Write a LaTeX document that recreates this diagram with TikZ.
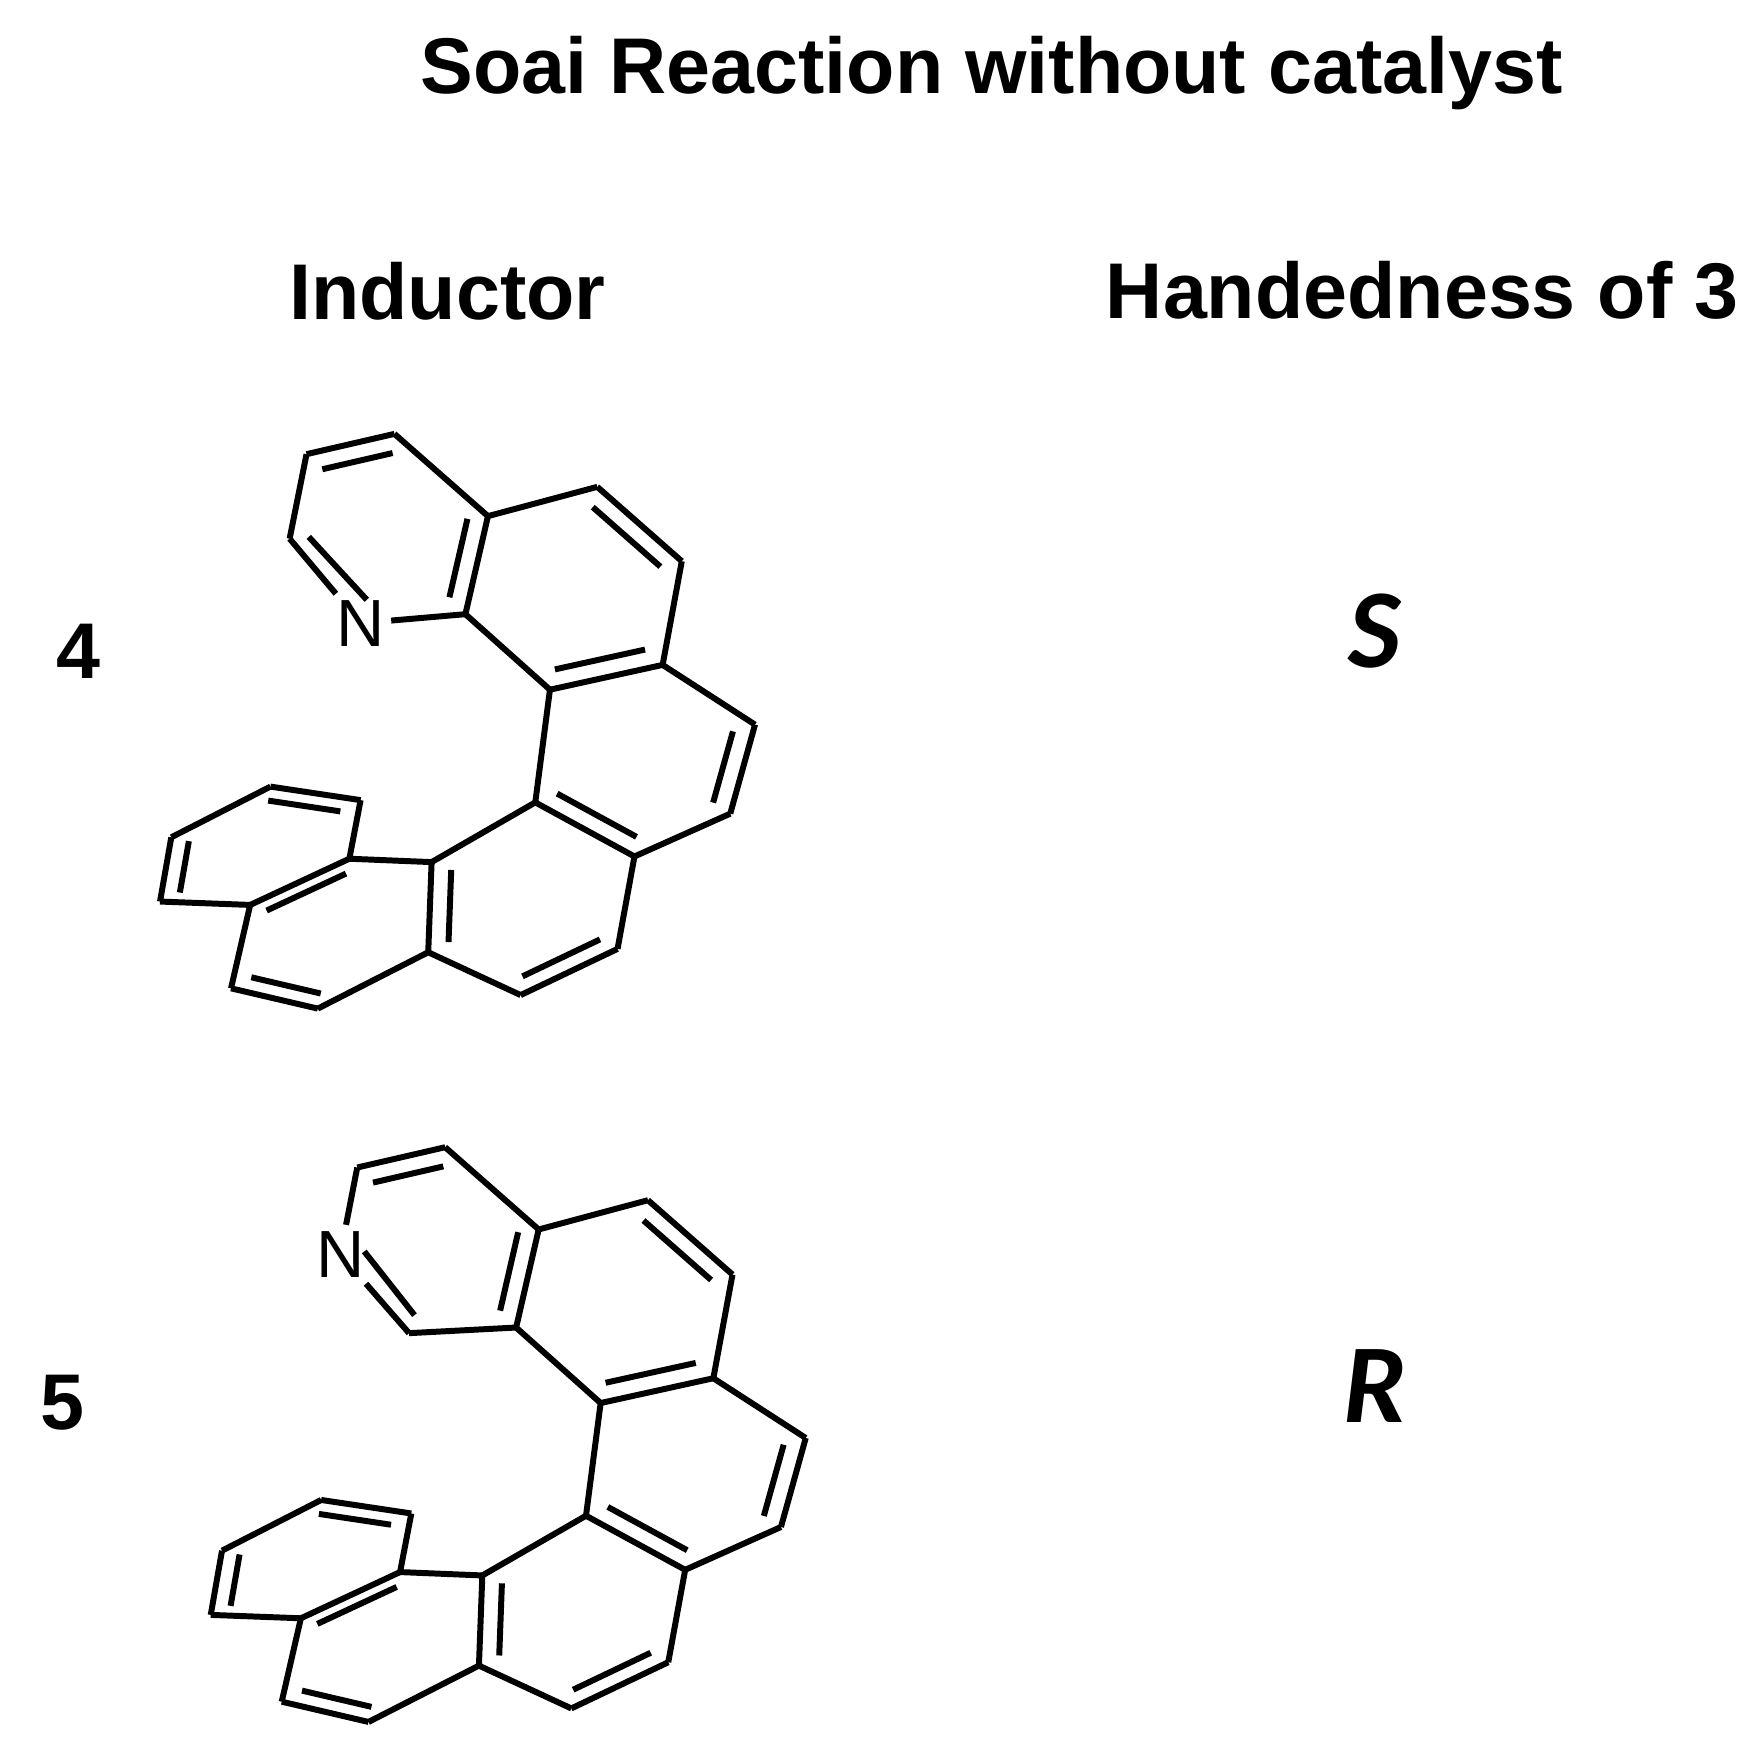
\documentclass[tikz,border=0pt]{standalone}
\usepackage{fontspec}
\setmainfont{Liberation Sans}
\newfontfamily\carl{Carlito}
\usetikzlibrary{calc}
\begin{document}
\begin{tikzpicture}[x=0.01127cm,y=-0.01127cm,line width=1.7pt,line join=round,
  lbl/.style={font=\fontsize{22.5}{26}\selectfont\bfseries},
  atomN/.style={font=\fontsize{19}{22}\selectfont,inner sep=1pt}]
\useasboundingbox (0,0) rectangle (1560,1560);
\newcommand\db[3]{\draw (#1)--(#2); \draw ($(#1)!0.2!(#3)$)--($(#2)!0.2!(#3)$);}
\node[lbl] (title) at (880,65) {Soai Reaction without catalyst};
\node[lbl] (ind) at (397,258) {Inductor};
\node[lbl] (hand) at (1262,258) {Handedness of 3};
\node[lbl] (n4) at (70,578) {4};
\node[lbl] (n5) at (55,1245) {5};
\node[font=\fontsize{32}{36}\selectfont\carl\bfseries\itshape] (S) at (1220,560) {S};
\node[font=\fontsize{32}{36}\selectfont\carl\bfseries\itshape] (R) at (1220,1230) {R};
% molecule 4
\begin{scope}
\coordinate (a1) at (350,385); \coordinate (a2) at (272,403); \coordinate (a3) at (257,478);
\node[atomN] (N) at (320,553) {N};
\coordinate (a5) at (413,545); \coordinate (a6) at (433,458);
\coordinate (b1) at (530,432); \coordinate (b2) at (605,498); \coordinate (b3) at (588,590); \coordinate (b4) at (488,612);
\coordinate (c1) at (670,643); \coordinate (c2) at (648,722); \coordinate (c3) at (563,760); \coordinate (c4) at (475,712);
\coordinate (d1) at (548,842); \coordinate (d2) at (462,883); \coordinate (d3) at (380,845); \coordinate (d4) at (383,765);
\coordinate (e1) at (282,895); \coordinate (e2) at (205,877); \coordinate (e3) at (222,803); \coordinate (e4) at (310,762);
\coordinate (f1) at (142,800); \coordinate (f2) at (152,743); \coordinate (f3) at (240,698); \coordinate (f4) at (320,710);
\coordinate (cA) at (342,470); \coordinate (cB) at (510,522); \coordinate (cC) at (572,673);
\coordinate (cD) at (470,800); \coordinate (cE) at (295,828); \coordinate (cF) at (230,760);
\db{a1}{a2}{cA} \draw (a2)--(a3);
\draw (a3)--(N); \draw ($(a3)!0.2!(cA)$)--($(N.center)!0.25!(cA)$);
\draw (N)--(a5); \db{a5}{a6}{cA} \draw (a6)--(a1);
\draw (a6)--(b1); \db{b1}{b2}{cB} \draw (b2)--(b3); \db{b3}{b4}{cB} \draw (b4)--(a5);
\draw (b3)--(c1); \db{c1}{c2}{cC} \draw (c2)--(c3); \db{c3}{c4}{cC} \draw (c4)--(b4);
\draw (c3)--(d1); \db{d1}{d2}{cD} \draw (d2)--(d3); \db{d3}{d4}{cD} \draw (d4)--(c4);
\draw (d3)--(e1); \db{e1}{e2}{cE} \draw (e2)--(e3); \db{e3}{e4}{cE} \draw (e4)--(d4);
\draw (e3)--(f1); \db{f1}{f2}{cF} \draw (f2)--(f3); \db{f3}{f4}{cF} \draw (f4)--(e4);
\end{scope}
% molecule 5
\begin{scope}[shift={(45,633)}]
\coordinate (a1) at (350,385); \coordinate (a2) at (272,403);
\node[atomN] (N) at (257,480) {N};
\coordinate (a4) at (318,550);
\coordinate (a5) at (413,545); \coordinate (a6) at (433,458);
\coordinate (b1) at (530,432); \coordinate (b2) at (605,498); \coordinate (b3) at (588,590); \coordinate (b4) at (488,612);
\coordinate (c1) at (670,643); \coordinate (c2) at (648,722); \coordinate (c3) at (563,760); \coordinate (c4) at (475,712);
\coordinate (d1) at (548,842); \coordinate (d2) at (462,883); \coordinate (d3) at (380,845); \coordinate (d4) at (383,765);
\coordinate (e1) at (282,895); \coordinate (e2) at (205,877); \coordinate (e3) at (222,803); \coordinate (e4) at (310,762);
\coordinate (f1) at (142,800); \coordinate (f2) at (152,743); \coordinate (f3) at (240,698); \coordinate (f4) at (320,710);
\coordinate (cA) at (342,470); \coordinate (cB) at (510,522); \coordinate (cC) at (572,673);
\coordinate (cD) at (470,800); \coordinate (cE) at (295,828); \coordinate (cF) at (230,760);
\db{a1}{a2}{cA} \draw (a2)--(N);
\draw (N)--(a4); \draw ($(N.center)!0.25!(cA)$)--($(a4)!0.2!(cA)$);
\draw (a4)--(a5); \db{a5}{a6}{cA} \draw (a6)--(a1);
\draw (a6)--(b1); \db{b1}{b2}{cB} \draw (b2)--(b3); \db{b3}{b4}{cB} \draw (b4)--(a5);
\draw (b3)--(c1); \db{c1}{c2}{cC} \draw (c2)--(c3); \db{c3}{c4}{cC} \draw (c4)--(b4);
\draw (c3)--(d1); \db{d1}{d2}{cD} \draw (d2)--(d3); \db{d3}{d4}{cD} \draw (d4)--(c4);
\draw (d3)--(e1); \db{e1}{e2}{cE} \draw (e2)--(e3); \db{e3}{e4}{cE} \draw (e4)--(d4);
\draw (e3)--(f1); \db{f1}{f2}{cF} \draw (f2)--(f3); \db{f3}{f4}{cF} \draw (f4)--(e4);
\end{scope}
\end{tikzpicture}
\end{document}
